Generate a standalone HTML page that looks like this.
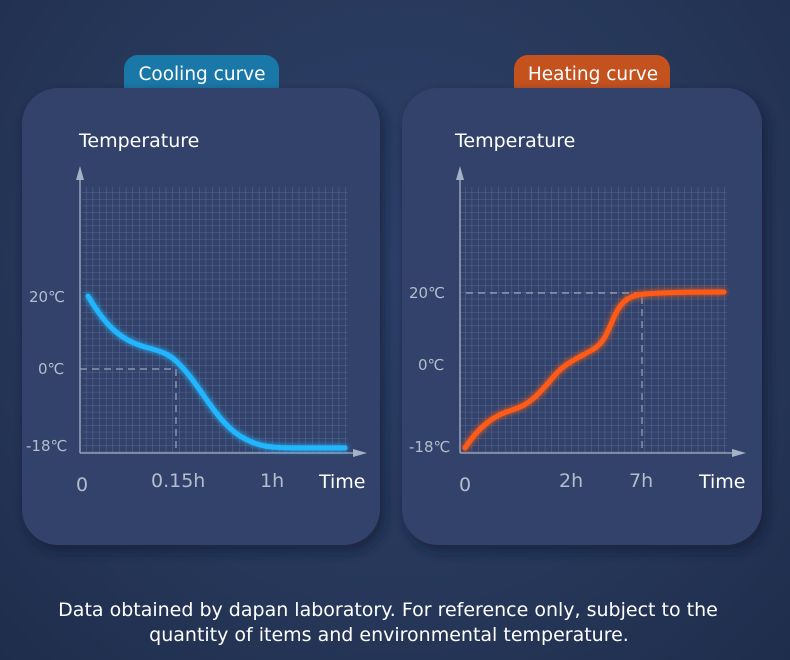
<!DOCTYPE html>
<html><head><style>
body{margin:0;width:790px;height:660px;overflow:hidden;background:radial-gradient(ellipse at 50% 40%,#2e416a 0%,#263759 60%,#1f2d4c 100%);font-family:"DejaVu Sans","Liberation Sans",sans-serif;}
svg{position:absolute;left:0;top:0}
text{font-family:"DejaVu Sans","Liberation Sans",sans-serif}
</style></head><body>
<svg width="790" height="660" viewBox="0 0 790 660">
<defs>
<pattern id="g" width="6.65" height="6.65" patternUnits="userSpaceOnUse"><path d="M6.65 0V6.65H0" fill="none" stroke="#6f83ad" stroke-width="0.8" opacity="0.75"/></pattern>
<filter id="sh" x="-20%" y="-20%" width="140%" height="140%"><feDropShadow dx="4" dy="6" stdDeviation="6" flood-color="#141e36" flood-opacity="0.7"/></filter>
<filter id="gl" x="-20%" y="-20%" width="140%" height="140%"><feGaussianBlur stdDeviation="3" result="b"/><feMerge><feMergeNode in="b"/><feMergeNode in="SourceGraphic"/></feMerge></filter>
</defs>
<rect x="124" y="55" width="155" height="45" rx="14" fill="#1a78a8"/>
<rect x="514" y="55" width="156" height="45" rx="14" fill="#c4521f"/>
<text x="202" y="80" fill="#fff" font-size="18.5" text-anchor="middle">Cooling curve</text>
<text x="593" y="80" fill="#fff" font-size="18.5" text-anchor="middle">Heating curve</text>
<rect x="22" y="88" width="358" height="457" rx="36" fill="#30426a" filter="url(#sh)"/>
<rect x="402" y="88" width="360" height="457" rx="36" fill="#30426a" filter="url(#sh)"/>
<g fill="#fff" font-size="19"><text x="79" y="147">Temperature</text><text x="455" y="147">Temperature</text>
<text x="319" y="488">Time</text><text x="699" y="488">Time</text></g>
<rect x="82" y="187" width="266" height="266" fill="url(#g)"/>
<rect x="460" y="187" width="267" height="266" fill="url(#g)"/>
<g stroke="#a7b1c6" stroke-width="1.3" fill="#a7b1c6">
<line x1="80" y1="176" x2="80" y2="453"/><line x1="80" y1="453" x2="358" y2="453"/>
<path d="M80 166L76 180H84Z" stroke="none"/><path d="M367 453L353 449V457Z" stroke="none"/>
<line x1="460" y1="176" x2="460" y2="453"/><line x1="460" y1="453" x2="737" y2="453"/>
<path d="M460 166L456 180H464Z" stroke="none"/><path d="M746 453L732 449V457Z" stroke="none"/>
</g>
<g stroke="#9aa5bb" stroke-width="1.2" stroke-dasharray="7,5" fill="none">
<path d="M80 369H176V453"/><path d="M466 293H642V453"/>
</g>
<g fill="#b4bccd" font-size="15">
<text x="29" y="302">20℃</text><text x="38" y="374">0℃</text><text x="26" y="451">-18℃</text>
<text x="409" y="298">20℃</text><text x="418" y="370">0℃</text><text x="409" y="452">-18℃</text>
</g>
<g fill="#b4bccd" font-size="19">
<text x="76" y="491">0</text><text x="151" y="487">0.15h</text><text x="260" y="487">1h</text>
<text x="459" y="491">0</text><text x="559" y="487">2h</text><text x="629" y="487">7h</text>
</g>
<path d="M88 296C105 325 120 340 145 347C165 352 172 356 180 365C200 385 215 420 240 436C258 447 270 448 300 448L345 448" fill="none" stroke="#22b6ff" stroke-width="5" stroke-linecap="round" filter="url(#gl)"/>
<path d="M465 448C480 425 495 415 512 410C530 405 540 393 555 375C565 363 580 357 592 350C605 343 608 330 615 315C622 300 630 295 645 294C670 292 700 292 724 292" fill="none" stroke="#ff5a14" stroke-width="5" stroke-linecap="round" filter="url(#gl)"/>
<g fill="#fff" font-size="19" text-anchor="middle">
<text x="388" y="616">Data obtained by dapan laboratory. For reference only, subject to the</text>
<text x="389" y="641">quantity of items and environmental temperature.</text>
</g>
</svg>
</body></html>
